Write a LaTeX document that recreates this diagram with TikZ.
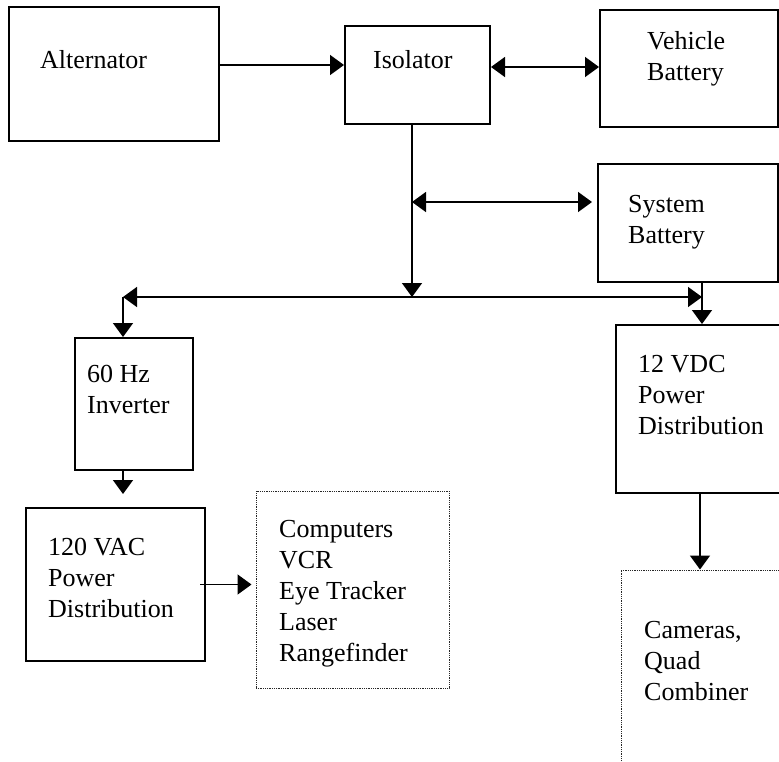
\documentclass[tikz,border=0pt]{standalone}
\usepackage{fontspec}
\setmainfont{Liberation Serif}
\usetikzlibrary{arrows.meta}
\begin{document}
\begin{tikzpicture}[x=1pt,y=-1pt,
  blk/.style={draw,line width=2pt,inner sep=0pt},
  dotblk/.style={draw=black!85,line width=1pt,dash pattern=on 1pt off 0.8pt,inner sep=0pt},
  txt/.style={font=\fontsize{26}{31}\selectfont,align=left,anchor=north west,inner sep=0pt},
  arr/.style={line width=1.6pt,-{Triangle[length=14pt,width=20pt]}},
  arrb/.style={line width=1.6pt,{Triangle[length=14pt,width=20pt]}-{Triangle[length=14pt,width=20pt]}}]
\clip (0,0) rectangle (779,761);
% boxes
\node[blk,minimum width=210,minimum height=134] (alt) at (114,74) {};
\node[blk,minimum width=145,minimum height=98] (iso) at (417.5,75) {};
\node[blk,minimum width=178,minimum height=117] (vbat) at (689,68.5) {};
\node[blk,minimum width=180,minimum height=118] (sbat) at (688,223) {};
\node[blk,minimum width=118,minimum height=132] (inv) at (134,404) {};
\node[blk,minimum width=179,minimum height=153] (vac) at (115.5,584.5) {};
\node[blk,minimum width=168,minimum height=168] (vdc) at (700,409) {};
\node[dotblk,minimum width=193,minimum height=197] (comp) at (352.5,589.5) {};
\node[dotblk,minimum width=160,minimum height=230] (cam) at (701,685) {};
% texts
\node[txt] (altT) at (40,50) {Alternator};
\node[txt] (isoT) at (373,50) {Isolator};
\node[txt] (vbatT) at (647,31) {Vehicle\\Battery};
\node[txt] (sbatT) at (628,195) {System\\Battery};
\node[txt] (invT) at (87,365) {60 Hz\\Inverter};
\node[txt] (vacT) at (48,538) {120 VAC\\Power\\Distribution};
\node[txt] (compT) at (279,520) {Computers\\VCR\\Eye Tracker\\Laser\\Rangefinder};
\node[txt] (vdcT) at (638,355) {12 VDC\\Power\\Distribution};
\node[txt] (camT) at (644,621) {Cameras,\\Quad\\Combiner};
% bus points
\coordinate (tap) at (412,297);
\coordinate (mid) at (412,202);
\coordinate (busL) at (123,297);
\coordinate (busR) at (702,297);
% connectors
\draw[arr] ([yshift=9]alt.east) -- ([yshift=9]alt.east -| iso.west);
\draw[arrb] ([yshift=8]iso.east) -- ([yshift=8]iso.east -| vbat.west);
\draw[arr] (iso.south -| tap) -- (tap);
\draw[arrb,shorten >=5pt] (mid) -- (mid -| sbat.west);
\draw[arrb] (busL) -- (busR);
\draw[arr] (busL) -- (busL |- inv.north);
\draw[arr] (sbat.south -| busR) -- (busR |- vdc.north);
\draw[arr,shorten >=13pt] (inv.south -| busL) -- (busL |- vac.north);
\draw[arr,shorten <=-6pt,shorten >=4pt] (vac.east) -- (vac.east -| comp.west);
\draw[arr] (vdc.south) -- (vdc.south |- cam.north);
\end{tikzpicture}
\end{document}
